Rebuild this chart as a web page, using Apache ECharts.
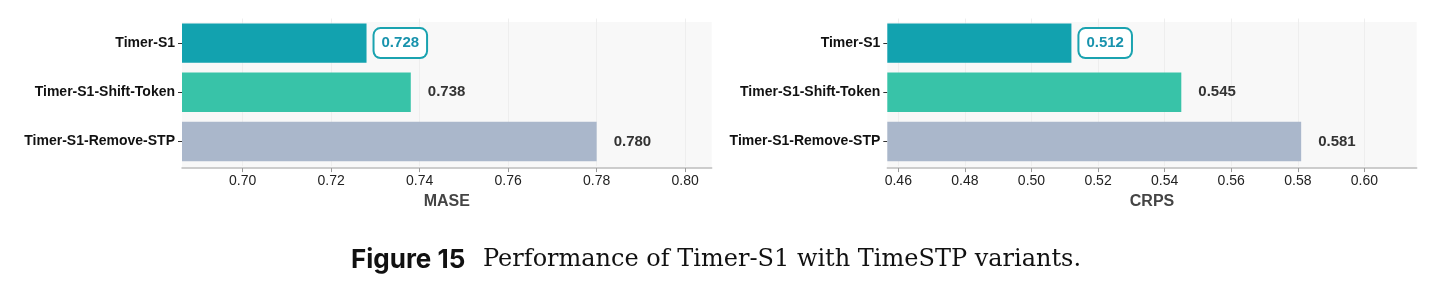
<!DOCTYPE html>
<html><head><meta charset="utf-8">
<script src="https://cdn.jsdelivr.net/npm/echarts@6/dist/echarts.min.js"></script>
<style>html,body{margin:0;padding:0;background:#fff}#c{width:1434px;height:291px}</style>
</head><body><div id="c"></div>
<script>
const categories = ['Timer-S1', 'Timer-S1-Shift-Token', 'Timer-S1-Remove-STP'];
const maseValues = [0.728, 0.738, 0.780];
const crpsValues = [0.512, 0.545, 0.581];
const maseTicks = { min: 0.6863, max: 0.806, interval: 0.02, first: 0.70 };
const crpsTicks = { min: 0.4567, max: 0.6157, interval: 0.02, first: 0.46 };
const barColors = ['#12A2AF', '#38C3A8', '#AAB7CB'];
const captionBold = 'Figure 15';
const captionText = 'Performance of Timer-S1 with TimeSTP variants.';

const FONT = '"Liberation Sans", Arial, sans-serif';
const chart = echarts.init(document.getElementById('c'), null, {renderer: 'canvas'});

const grids = [
  {left: 182, width: 529.7, top: 18.5, height: 147.6},
  {left: 887.3, width: 529.4, top: 18.5, height: 147.6}
];

function ticksFrom(t) {
  const out = [];
  for (let v = t.first; v <= t.max + 1e-9; v += t.interval) out.push(+v.toFixed(4));
  return out;
}
function xAxisFor(idx, t, name) {
  return {
    type: 'value', gridIndex: idx, min: t.min, max: t.max, offset: 2,
    name: name, nameLocation: 'middle', nameGap: 25,
    nameTextStyle: {fontFamily: FONT, fontWeight: 'bold', fontSize: 16, color: '#444'},
    axisLine: {show: true, lineStyle: {color: '#bdbdbd', width: 1.5}},
    axisTick: {show: true, length: 4, lineStyle: {color: '#999'},
      customValues: ticksFrom(t)},
    axisLabel: {fontFamily: FONT, fontSize: 14, color: '#222', margin: 6,
      customValues: ticksFrom(t), formatter: v => v.toFixed(2)},
    splitLine: {show: true, lineStyle: {color: '#eeeeee', width: 1}}
  };
}
function yAxisFor(idx) {
  return {
    type: 'category', gridIndex: idx, data: categories, inverse: true,
    axisLine: {show: false},
    axisTick: {show: true, length: 4, alignWithLabel: true, lineStyle: {color: '#333'}},
    axisLabel: {fontFamily: FONT, fontWeight: 'bold', fontSize: 14, color: '#111', margin: 7}
  };
}
function seriesFor(idx, vals) {
  return {
    type: 'bar', xAxisIndex: idx, yAxisIndex: idx, barWidth: '80%',
    data: vals.map((v, i) => ({
      value: v,
      itemStyle: {color: barColors[i]},
      label: i === 0 ? {
        show: true, position: 'right', distance: 8,
        fontFamily: FONT, fontWeight: 'bold', fontSize: 15, color: '#1993AD',
        backgroundColor: '#fff', borderColor: '#1AA3B0', borderWidth: 2, borderRadius: 6,
        padding: [7, 7, 6, 7], formatter: p => p.value.toFixed(3)
      } : {
        show: true, position: 'right', distance: 17,
        fontFamily: FONT, fontWeight: 'bold', fontSize: 15, color: '#333',
        formatter: p => p.value.toFixed(3)
      }
    }))
  };
}

chart.setOption({
  animation: false,
  grid: grids.map(g => Object.assign({show: false}, g)),
  xAxis: [xAxisFor(0, maseTicks, 'MASE'), xAxisFor(1, crpsTicks, 'CRPS')],
  yAxis: [yAxisFor(0), yAxisFor(1)],
  series: [seriesFor(0, maseValues), seriesFor(1, crpsValues)],
  graphic: [
    {type: 'rect', z: -10, silent: true, shape: {x: 182, y: 22, width: 529.7, height: 146}, style: {fill: '#f8f8f8'}},
    {type: 'rect', z: -10, silent: true, shape: {x: 887.3, y: 22, width: 529.4, height: 146}, style: {fill: '#f8f8f8'}},
    {type: 'text', left: 351, top: 247, style: {text: captionBold, font: 'bold 26px Inter, Lato, sans-serif', fill: '#111'}},
    {type: 'text', left: 483, top: 248, style: {text: captionText, font: '24px "DejaVu Serif", "Liberation Serif", serif', fill: '#111'}}
  ]
});
</script></body></html>
